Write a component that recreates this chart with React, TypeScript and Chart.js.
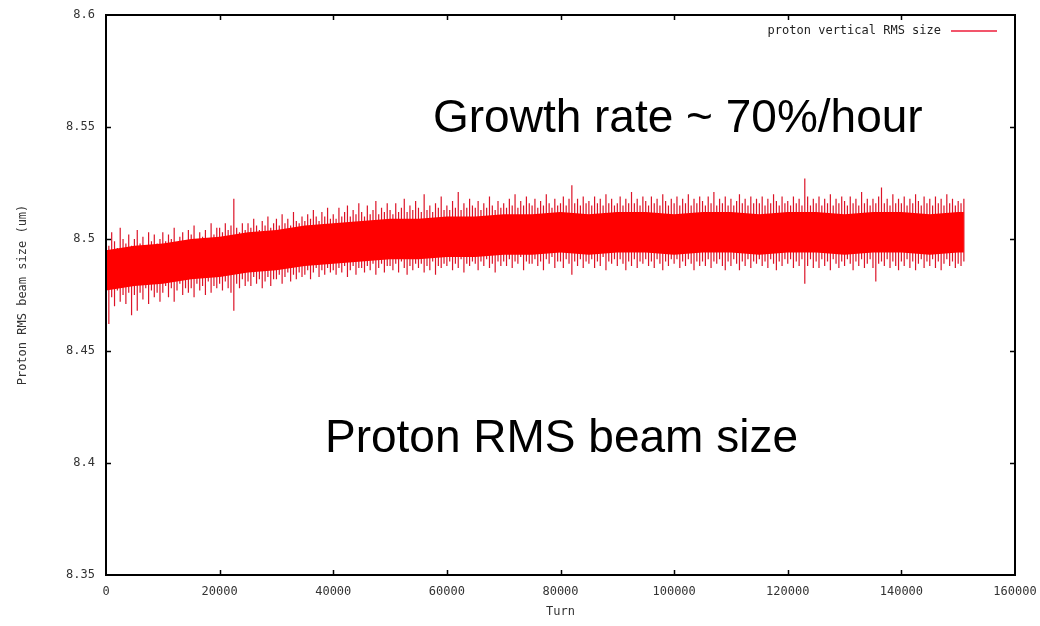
import React, { useEffect, useRef } from "react";
import { Chart, registerables } from "chart.js";

Chart.register(...registerables);

// ---- data ----
const xTickValues = [0, 20000, 40000, 60000, 80000, 100000, 120000, 140000, 160000];
const yTickValues = [8.35, 8.4, 8.45, 8.5, 8.55, 8.6];

// solid core of the noisy band (every 5000 turns, last point = end of run)
const coreTurns = [
  0, 5000, 10000, 15000, 20000, 25000, 30000, 35000, 40000, 45000, 50000,
  55000, 60000, 65000, 70000, 75000, 80000, 85000, 90000, 95000, 100000,
  105000, 110000, 115000, 120000, 125000, 130000, 135000, 140000, 145000, 150000, 151000,
];
const coreHigh = [
  8.495, 8.497, 8.498, 8.500, 8.501, 8.503, 8.504, 8.506, 8.507, 8.508, 8.509,
  8.509, 8.510, 8.510, 8.511, 8.511, 8.512, 8.511, 8.512, 8.512, 8.511,
  8.512, 8.512, 8.511, 8.512, 8.512, 8.511, 8.512, 8.512, 8.511, 8.512, 8.512,
];
const coreLow = [
  8.477, 8.479, 8.480, 8.482, 8.483, 8.485, 8.486, 8.488, 8.489, 8.490, 8.491,
  8.491, 8.492, 8.492, 8.493, 8.493, 8.494, 8.493, 8.494, 8.494, 8.493,
  8.494, 8.494, 8.493, 8.494, 8.494, 8.493, 8.494, 8.494, 8.493, 8.494, 8.494,
];

// noise excursions, one every 500 turns from 0 to 151000
const spikeStep = 500;
const spikeHigh = [
  8.509, 8.497, 8.503, 8.499, 8.496, 8.505, 8.500, 8.498, 8.502, 8.497,
  8.500, 8.504, 8.498, 8.501, 8.497, 8.503, 8.499, 8.502, 8.498, 8.500,
  8.503, 8.499, 8.502, 8.500, 8.505, 8.498, 8.501, 8.503, 8.499, 8.504,
  8.502, 8.506, 8.500, 8.503, 8.501, 8.504, 8.499, 8.507, 8.502, 8.505,
  8.505, 8.503, 8.507, 8.504, 8.506, 8.518, 8.505, 8.503, 8.507, 8.504,
  8.507, 8.505, 8.509, 8.506, 8.504, 8.508, 8.506, 8.510, 8.505, 8.507,
  8.509, 8.506, 8.511, 8.507, 8.509, 8.506, 8.512, 8.508, 8.507, 8.510,
  8.508, 8.511, 8.509, 8.513, 8.510, 8.508, 8.512, 8.510, 8.514, 8.509,
  8.511, 8.509, 8.514, 8.510, 8.512, 8.515, 8.510, 8.513, 8.511, 8.516,
  8.512, 8.510, 8.515, 8.511, 8.513, 8.517, 8.511, 8.514, 8.512, 8.516,
  8.513, 8.511, 8.516, 8.512, 8.514, 8.518, 8.512, 8.515, 8.513, 8.517,
  8.514, 8.512, 8.520, 8.513, 8.515, 8.512, 8.516, 8.514, 8.519, 8.513,
  8.515, 8.513, 8.517, 8.514, 8.521, 8.513, 8.516, 8.514, 8.518, 8.515,
  8.514, 8.517, 8.513, 8.516, 8.514, 8.519, 8.515, 8.513, 8.517, 8.514,
  8.516, 8.514, 8.518, 8.515, 8.520, 8.514, 8.517, 8.515, 8.519, 8.516,
  8.515, 8.518, 8.514, 8.517, 8.515, 8.520, 8.516, 8.514, 8.518, 8.515,
  8.516, 8.519, 8.515, 8.518, 8.524, 8.516, 8.518, 8.515, 8.519, 8.516,
  8.517, 8.515, 8.519, 8.516, 8.518, 8.515, 8.520, 8.516, 8.518, 8.515,
  8.516, 8.519, 8.515, 8.518, 8.516, 8.521, 8.516, 8.518, 8.515, 8.519,
  8.517, 8.515, 8.519, 8.516, 8.518, 8.515, 8.520, 8.517, 8.515, 8.518,
  8.516, 8.519, 8.515, 8.518, 8.516, 8.520, 8.515, 8.518, 8.516, 8.519,
  8.517, 8.515, 8.519, 8.516, 8.521, 8.515, 8.518, 8.516, 8.519, 8.515,
  8.518, 8.515, 8.517, 8.520, 8.516, 8.518, 8.515, 8.519, 8.516, 8.518,
  8.516, 8.519, 8.515, 8.518, 8.516, 8.520, 8.517, 8.515, 8.519, 8.516,
  8.517, 8.515, 8.519, 8.516, 8.518, 8.515, 8.527, 8.519, 8.515, 8.518,
  8.516, 8.519, 8.515, 8.518, 8.516, 8.520, 8.515, 8.518, 8.516, 8.519,
  8.517, 8.515, 8.519, 8.516, 8.518, 8.515, 8.521, 8.516, 8.518, 8.515,
  8.518, 8.516, 8.519, 8.523, 8.516, 8.518, 8.515, 8.520, 8.516, 8.518,
  8.516, 8.519, 8.515, 8.518, 8.516, 8.520, 8.517, 8.515, 8.519, 8.516,
  8.518, 8.515, 8.519, 8.516, 8.518, 8.515, 8.520, 8.516, 8.518, 8.515,
  8.517, 8.516, 8.518,
];
const spikeLow = [
  8.466, 8.462, 8.474, 8.470, 8.477, 8.472, 8.475, 8.471, 8.476, 8.466,
  8.475, 8.468, 8.476, 8.473, 8.478, 8.471, 8.477, 8.474, 8.476, 8.472,
  8.476, 8.479, 8.474, 8.478, 8.472, 8.477, 8.480, 8.475, 8.478, 8.476,
  8.478, 8.474, 8.480, 8.477, 8.479, 8.475, 8.481, 8.476, 8.479, 8.478,
  8.480, 8.477, 8.481, 8.478, 8.476, 8.468, 8.480, 8.478, 8.482, 8.479,
  8.481, 8.479, 8.483, 8.480, 8.482, 8.478, 8.481, 8.483, 8.479, 8.482,
  8.482, 8.484, 8.480, 8.483, 8.485, 8.481, 8.484, 8.482, 8.485, 8.483,
  8.484, 8.486, 8.482, 8.485, 8.487, 8.483, 8.486, 8.484, 8.487, 8.485,
  8.486, 8.484, 8.487, 8.485, 8.488, 8.483, 8.486, 8.488, 8.484, 8.487,
  8.487, 8.485, 8.488, 8.486, 8.489, 8.484, 8.487, 8.489, 8.485, 8.488,
  8.488, 8.486, 8.489, 8.485, 8.490, 8.487, 8.484, 8.488, 8.486, 8.489,
  8.487, 8.489, 8.485, 8.488, 8.486, 8.490, 8.484, 8.488, 8.487, 8.489,
  8.488, 8.490, 8.486, 8.489, 8.487, 8.491, 8.485, 8.489, 8.488, 8.490,
  8.489, 8.486, 8.490, 8.488, 8.491, 8.487, 8.489, 8.485, 8.490, 8.488,
  8.490, 8.488, 8.491, 8.487, 8.490, 8.489, 8.492, 8.486, 8.490, 8.489,
  8.489, 8.491, 8.488, 8.490, 8.486, 8.491, 8.489, 8.492, 8.487, 8.490,
  8.490, 8.487, 8.491, 8.489, 8.484, 8.490, 8.488, 8.491, 8.487, 8.490,
  8.489, 8.491, 8.487, 8.490, 8.488, 8.492, 8.486, 8.490, 8.489, 8.491,
  8.488, 8.491, 8.489, 8.486, 8.490, 8.488, 8.491, 8.487, 8.490, 8.489,
  8.491, 8.488, 8.490, 8.487, 8.491, 8.489, 8.486, 8.490, 8.488, 8.491,
  8.489, 8.491, 8.487, 8.490, 8.488, 8.491, 8.489, 8.486, 8.490, 8.488,
  8.490, 8.488, 8.491, 8.487, 8.490, 8.489, 8.491, 8.488, 8.486, 8.490,
  8.488, 8.491, 8.489, 8.486, 8.490, 8.488, 8.491, 8.487, 8.490, 8.489,
  8.491, 8.488, 8.490, 8.487, 8.491, 8.489, 8.486, 8.490, 8.488, 8.491,
  8.489, 8.491, 8.487, 8.490, 8.488, 8.491, 8.480, 8.488, 8.491, 8.487,
  8.490, 8.487, 8.491, 8.488, 8.490, 8.486, 8.491, 8.489, 8.487, 8.490,
  8.488, 8.491, 8.489, 8.486, 8.490, 8.488, 8.491, 8.487, 8.489, 8.491,
  8.487, 8.481, 8.489, 8.490, 8.488, 8.491, 8.487, 8.490, 8.488, 8.486,
  8.490, 8.488, 8.491, 8.487, 8.490, 8.486, 8.489, 8.491, 8.487, 8.490,
  8.488, 8.491, 8.487, 8.490, 8.486, 8.489, 8.491, 8.488, 8.490, 8.487,
  8.489, 8.488, 8.490,
];

const legendLabel = "proton vertical RMS size";
const yTitle = "Proton RMS beam size (um)";
const xTitle = "Turn";
const noteTop = "Growth rate ~ 70%/hour";
const noteBottom = "Proton RMS beam size";

const RED = "#ff0000";
const SPIKE = "#dc1428";
const MONO = '"DejaVu Sans Mono", monospace';

export default function App() {
  const ref = useRef<HTMLCanvasElement | null>(null);

  useEffect(() => {
    document.body.style.margin = "0";
    const canvas = ref.current;
    if (!canvas) return;

    const corePts = (vals: number[]) => coreTurns.map((t, i) => ({ x: t, y: vals[i] }));
    const spikePts: { x: number; y: number | null }[] = [];
    spikeHigh.forEach((hi, i) => {
      const t = i * spikeStep;
      spikePts.push({ x: t, y: spikeLow[i] }, { x: t, y: hi }, { x: t, y: null });
    });

    const overlay = {
      id: "overlay",
      afterDraw(chart: any) {
        const { ctx, chartArea: a, scales } = chart;
        const xs = scales.x, ys = scales.y;
        ctx.save();
        // frame
        ctx.strokeStyle = "#000";
        ctx.lineWidth = 2;
        ctx.strokeRect(a.left, a.top, a.right - a.left, a.bottom - a.top);
        // inward ticks on all four sides
        ctx.lineWidth = 1.5;
        ctx.beginPath();
        const tl = 5;
        xTickValues.slice(1, -1).forEach((v) => {
          const px = Math.round(xs.getPixelForValue(v)) + 0.5;
          ctx.moveTo(px, a.bottom);
          ctx.lineTo(px, a.bottom - tl);
          ctx.moveTo(px, a.top);
          ctx.lineTo(px, a.top + tl);
        });
        yTickValues.slice(1, -1).forEach((v) => {
          const py = Math.round(ys.getPixelForValue(v)) + 0.5;
          ctx.moveTo(a.left, py);
          ctx.lineTo(a.left + tl, py);
          ctx.moveTo(a.right, py);
          ctx.lineTo(a.right - tl, py);
        });
        ctx.stroke();
        // legend
        ctx.font = "12px " + MONO;
        ctx.fillStyle = "#222";
        ctx.textAlign = "right";
        ctx.textBaseline = "middle";
        ctx.fillText(legendLabel, 941, 31);
        ctx.strokeStyle = "#ee1c3a";
        ctx.lineWidth = 1.6;
        ctx.beginPath();
        ctx.moveTo(951, 31);
        ctx.lineTo(997, 31);
        ctx.stroke();
        // big annotations
        ctx.font = '46px "Liberation Sans", Arial, sans-serif';
        ctx.fillStyle = "#000";
        ctx.textAlign = "left";
        ctx.textBaseline = "alphabetic";
        ctx.fillText(noteTop, 433, 132);
        ctx.fillText(noteBottom, 325, 452);
        ctx.restore();
      },
    };

    const chart = new Chart(canvas, {
      type: "line",
      data: {
        datasets: [
          {
            label: "core high",
            data: corePts(coreHigh),
            borderWidth: 0,
            borderColor: RED,
            pointRadius: 0,
            fill: false,
            tension: 0,
          },
          {
            label: "core low",
            data: corePts(coreLow),
            borderWidth: 0,
            borderColor: RED,
            backgroundColor: RED,
            pointRadius: 0,
            fill: "-1",
            tension: 0,
          },
          {
            label: legendLabel,
            data: spikePts as any,
            borderColor: SPIKE,
            borderWidth: 1.2,
            pointRadius: 0,
            spanGaps: false,
            fill: false,
            tension: 0,
          },
        ],
      },
      plugins: [overlay],
      options: {
        responsive: false,
        animation: false,
        layout: { padding: { left: 0, top: 15, right: 25, bottom: 0 } },
        plugins: { legend: { display: false }, tooltip: { enabled: false } },
        scales: {
          x: {
            type: "linear",
            min: 0,
            max: 160000,
            afterBuildTicks: (s: any) => {
              s.ticks = xTickValues.map((v) => ({ value: v }));
            },
            afterFit: (s: any) => {
              s.height = 51;
              s.paddingLeft = 0;
              s.paddingRight = 0;
            },
            ticks: {
              callback: (v: any) => String(v),
              font: { family: MONO, size: 12 },
              color: "#333",
              padding: 10,
              maxRotation: 0,
              autoSkip: false,
            },
            grid: { display: false, drawTicks: false },
            border: { display: false },
            title: {
              display: true,
              text: xTitle,
              font: { family: MONO, size: 12 },
              color: "#333",
              padding: { top: 0, bottom: 7 },
            },
          },
          y: {
            min: 8.35,
            max: 8.6,
            afterBuildTicks: (s: any) => {
              s.ticks = yTickValues.map((v) => ({ value: v }));
            },
            afterFit: (s: any) => {
              s.width = 106;
              s.paddingTop = 0;
              s.paddingBottom = 0;
            },
            ticks: {
              callback: (v: any) => String(Number(Number(v).toFixed(2))),
              font: { family: MONO, size: 12 },
              color: "#333",
              padding: 11,
              autoSkip: false,
            },
            grid: { display: false, drawTicks: false },
            border: { display: false },
            title: {
              display: true,
              text: yTitle,
              font: { family: MONO, size: 12 },
              color: "#333",
              padding: { top: 16, bottom: 0 },
            },
          },
        },
      },
    });
    return () => chart.destroy();
  }, []);

  return (
    <div style={{ width: 1040, height: 626, background: "#fff" }}>
      <canvas ref={ref} width={1040} height={626} />
    </div>
  );
}
